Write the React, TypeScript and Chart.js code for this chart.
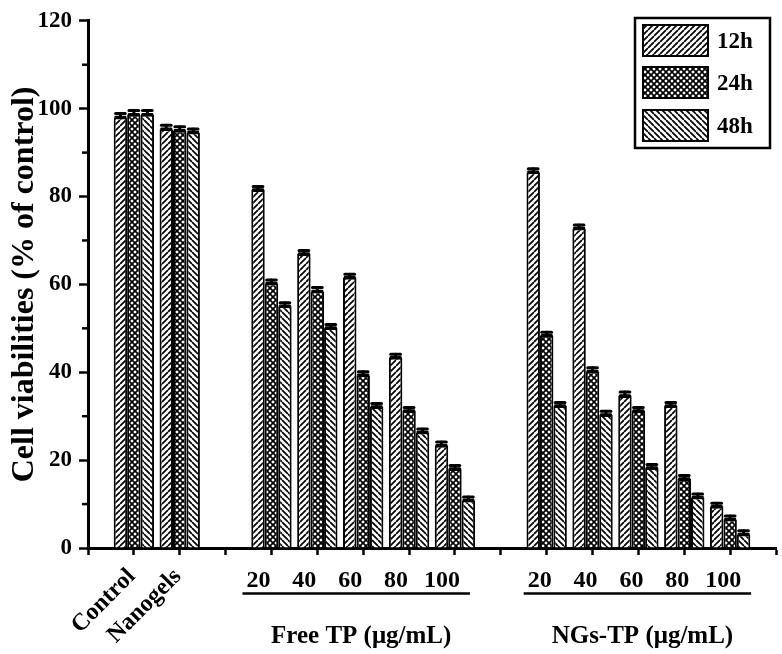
import { useEffect, useRef } from 'react';
import { Chart, registerables } from 'chart.js';

Chart.register(...registerables);

// ---------- data ----------
const categories = ['', 'Control', 'Nanogels', '', '20', '40', '60', '80', '100', '', '20', '40', '60', '80', '100', ''];
const seriesNames = ['12h', '24h', '48h'];
const values12h = [null, 98.0, 95.3, null, 81.5, 66.9, 61.5, 43.3, 23.3, null, 85.5, 72.7, 34.6, 32.3, 9.4, null];
const values24h = [null, 98.6, 95.0, null, 60.2, 58.4, 39.3, 31.2, 18.0, null, 48.3, 40.2, 31.2, 15.7, 6.5, null];
const values48h = [null, 98.6, 94.6, null, 55.0, 50.1, 32.1, 26.3, 10.8, null, 32.3, 30.3, 18.2, 11.5, 3.1, null];
const errors12h = [0, 0.9, 0.9, 0, 0.8, 0.8, 0.8, 0.8, 0.8, 0, 0.8, 0.8, 0.9, 0.8, 0.8, 0];
const errors24h = [0, 1.0, 0.9, 0, 0.8, 0.9, 0.8, 0.8, 0.8, 0, 0.8, 0.8, 0.8, 0.8, 0.8, 0];
const errors48h = [0, 1.0, 0.8, 0, 0.8, 0.8, 0.8, 0.8, 0.8, 0, 0.8, 0.8, 0.8, 0.8, 0.8, 0];
const yTicksMajor = [0, 20, 40, 60, 80, 100, 120];
const yTicksMinor = [10, 30, 50, 70, 90, 110];
const groupTitles = ['Free TP (μg/mL)', 'NGs-TP (μg/mL)'];
const groupFrom = [4, 10];
const groupTo = [8, 14];
const yTitle = 'Cell viabilities (% of control)';

const FONT = "'Liberation Serif', 'Times New Roman', serif";

function makePattern(kind: string): CanvasPattern | string {
  const s = 6;
  const c = document.createElement('canvas');
  c.width = s;
  c.height = s;
  const g = c.getContext('2d');
  if (!g) return '#fff';
  g.fillStyle = '#fff';
  g.fillRect(0, 0, s, s);
  g.strokeStyle = '#000';
  g.lineWidth = 1.7;
  const fwd = () => {
    g.beginPath();
    for (const k of [-s, 0, s]) {
      g.moveTo(k, s);
      g.lineTo(k + s, 0);
    }
    g.stroke();
  };
  const back = () => {
    g.beginPath();
    for (const k of [-s, 0, s]) {
      g.moveTo(k, 0);
      g.lineTo(k + s, s);
    }
    g.stroke();
  };
  if (kind === 'fwd') fwd();
  else if (kind === 'back') back();
  else {
    fwd();
    back();
  }
  const p = g.createPattern(c, 'repeat');
  return p || '#fff';
}

export default function App() {
  const ref = useRef<HTMLCanvasElement | null>(null);

  useEffect(() => {
    const canvas = ref.current;
    if (!canvas) return;
    const patterns = [makePattern('fwd'), makePattern('cross'), makePattern('back')];
    const allValues = [values12h, values24h, values48h];
    const allErrors = [errors12h, errors24h, errors48h];

    const decorations = {
      id: 'decorations',
      afterDatasetsDraw(chart: any) {
        const ctx = chart.ctx;
        const ys = chart.scales.y;
        ctx.save();
        ctx.strokeStyle = '#000';
        ctx.fillStyle = '#000';
        // error bars
        chart.data.datasets.forEach((ds: any, i: number) => {
          const meta = chart.getDatasetMeta(i);
          meta.data.forEach((bar: any, j: number) => {
            const v = allValues[i][j];
            if (v === null || v === undefined) return;
            const e = allErrors[i][j];
            const yTop = ys.getPixelForValue(v + e);
            const yBar = ys.getPixelForValue(v);
            const half = bar.width * 0.36;
            ctx.lineWidth = 3;
            ctx.lineCap = 'round';
            ctx.beginPath();
            ctx.moveTo(bar.x, yBar);
            ctx.lineTo(bar.x, yTop);
            ctx.stroke();
            ctx.beginPath();
            ctx.moveTo(bar.x - half, yTop);
            ctx.lineTo(bar.x + half, yTop);
            ctx.stroke();
            ctx.lineWidth = 2.5;
            ctx.beginPath();
            ctx.moveTo(bar.x - half, yBar - 0.5);
            ctx.lineTo(bar.x + half, yBar - 0.5);
            ctx.stroke();
          });
        });
        ctx.restore();
      },
      afterDraw(chart: any) {
        const ctx = chart.ctx;
        const xs = chart.scales.x;
        const ys = chart.scales.y;
        ctx.save();
        ctx.strokeStyle = '#000';
        ctx.fillStyle = '#000';
        // minor y ticks
        ctx.lineWidth = 2.5;
        yTicksMinor.forEach((v) => {
          const y = ys.getPixelForValue(v);
          ctx.beginPath();
          ctx.moveTo(xs.left - 6, y);
          ctx.lineTo(xs.left, y);
          ctx.stroke();
        });
        // x labels
        const shifts = [-13, -7];
        const groupOf = (i: number) => {
          for (let g = 0; g < groupFrom.length; g++) {
            if (i >= groupFrom[g] && i <= groupTo[g]) return g;
          }
          return -1;
        };
        ctx.font = `bold 24px ${FONT}`;
        categories.forEach((lab, i) => {
          if (!lab) return;
          const px = xs.getPixelForValue(i);
          const g = groupOf(i);
          if (g < 0) {
            ctx.save();
            ctx.translate(px - 2, 573);
            ctx.rotate(-Math.PI / 4);
            ctx.textAlign = 'right';
            ctx.textBaseline = 'middle';
            ctx.fillText(lab, 0, 0);
            ctx.restore();
          } else {
            ctx.textAlign = 'center';
            ctx.textBaseline = 'middle';
            ctx.fillText(lab, px + shifts[g], 581);
          }
        });
        // group underlines & titles
        groupTitles.forEach((t, g) => {
          const a = xs.getPixelForValue(groupFrom[g]);
          const b = xs.getPixelForValue(groupTo[g]);
          ctx.lineWidth = 2.5;
          ctx.beginPath();
          ctx.moveTo(a + shifts[g] - 16, 593.5);
          ctx.lineTo(b + shifts[g] + 28, 593.5);
          ctx.stroke();
          ctx.font = `bold 25px ${FONT}`;
          ctx.textAlign = 'center';
          ctx.textBaseline = 'middle';
          ctx.fillText(t, (a + b) / 2 + shifts[g] + 11, 637);
        });
        // legend
        const lx = 635, ly = 18, lw = 135, lh = 130;
        ctx.lineWidth = 2.5;
        ctx.strokeRect(lx, ly, lw, lh);
        const rowTops = [25, 67, 110];
        seriesNames.forEach((name, i) => {
          const top = rowTops[i];
          ctx.fillStyle = patterns[i] as any;
          ctx.fillRect(643, top, 65, 31);
          ctx.lineWidth = 2;
          ctx.strokeStyle = '#000';
          ctx.strokeRect(643, top, 65, 31);
          ctx.fillStyle = '#000';
          ctx.font = `bold 23px ${FONT}`;
          ctx.textAlign = 'left';
          ctx.textBaseline = 'middle';
          ctx.fillText(name, 717, top + 17);
        });
        ctx.restore();
      },
    };

    const chart = new Chart(canvas, {
      type: 'bar',
      data: {
        labels: categories,
        datasets: seriesNames.map((name, i) => ({
          label: name,
          data: allValues[i] as any,
          backgroundColor: patterns[i] as any,
          borderColor: '#000',
          borderWidth: 2,
          categoryPercentage: 0.88,
          barPercentage: 1.0,
        })),
      },
      options: {
        responsive: false,
        animation: false,
        layout: { padding: { left: 0, right: 6, top: 13.5, bottom: 0 } },
        plugins: { legend: { display: false }, tooltip: { enabled: false } },
        scales: {
          x: {
            type: 'category',
            offset: false,
            grid: {
              offset: false,
              display: true,
              drawOnChartArea: false,
              drawTicks: true,
              tickLength: 7,
              tickWidth: 2.5,
              tickColor: '#000',
              color: '#000',
            },
            border: { display: true, color: '#000', width: 3 },
            ticks: { display: false, autoSkip: false },
            afterFit: (scale: any) => {
              scale.height = 106;
            },
          },
          y: {
            min: 0,
            max: 120,
            afterBuildTicks: (scale: any) => {
              scale.ticks = yTicksMajor.map((v) => ({ value: v }));
            },
            grid: {
              display: true,
              drawOnChartArea: false,
              drawTicks: true,
              tickLength: 9,
              tickWidth: 2.5,
              tickColor: '#000',
              color: '#000',
            },
            border: { display: true, color: '#000', width: 3 },
            ticks: {
              color: '#000',
              padding: 7,
              font: { family: FONT, size: 23, weight: 'bold' },
            },
            title: {
              display: true,
              text: yTitle,
              color: '#000',
              padding: { top: 6, bottom: 0 },
              font: { family: FONT, size: 32, weight: 'bold' },
            },
            afterFit: (scale: any) => {
              scale.width = 88;
            },
          },
        },
      },
      plugins: [decorations],
    });

    return () => chart.destroy();
  }, []);

  return (
    <div style={{ position: 'fixed', left: 0, top: 0, width: 782, height: 654, background: '#fff' }}>
      <canvas ref={ref} width={782} height={654} style={{ display: 'block' }} />
    </div>
  );
}
